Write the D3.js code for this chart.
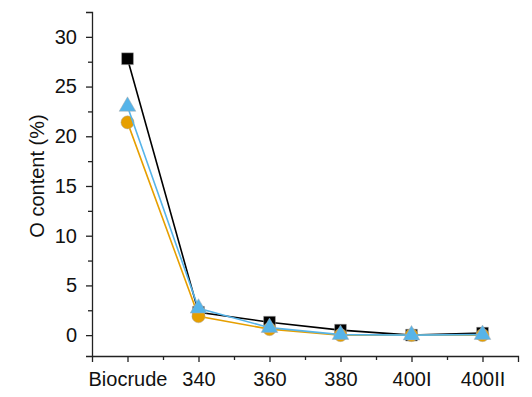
<!DOCTYPE html>
<html>
<head>
<meta charset="utf-8">
<script src="https://cdn.jsdelivr.net/npm/d3@7"></script>
<style>
  body { margin: 0; background: #fff; }
  text { font-family: "Liberation Sans", Arial, sans-serif; }
</style>
</head>
<body>
<svg id="chart" width="532" height="397"></svg>
<script>
// values
var categories = ["Biocrude", "340", "360", "380", "400I", "400II"];
var squareVals = [27.8, 2.3, 1.3, 0.5, 0.0, 0.2];
var circleVals = [21.4, 1.9, 0.6, 0.0, 0.0, 0.0];
var triangleVals = [23.0, 2.7, 0.75, 0.05, 0.0, 0.05];
var yTicks = [0, 5, 10, 15, 20, 25, 30];

var svg = d3.select("#chart");

var x = d3.scaleLinear().domain([0.5, 6.5]).range([92, 518]);
var y = d3.scaleLinear().domain([-2.1, 32.5]).range([356, 12]);

var catPos = categories.map(function(d, i) { return i + 1; });

// minor ticks first, majors drawn on top
svg.append("g")
    .attr("transform", "translate(0,356)")
    .call(d3.axisBottom(x).tickValues(d3.range(1.5, 6.5, 1)).tickSize(4).tickFormat(""))
    .call(function(g) { g.select(".domain").remove(); });

svg.append("g")
    .attr("transform", "translate(92,0)")
    .call(d3.axisLeft(y).tickValues(d3.range(-2.5 + 5, 32.5, 5)).tickSize(4).tickFormat(""))
    .call(function(g) { g.select(".domain").remove(); });

var xAxis = svg.append("g")
    .attr("transform", "translate(0,356)")
    .call(d3.axisBottom(x).tickValues(catPos).tickSize(6).tickPadding(10)
      .tickFormat(function(d) { return categories[d - 1]; }));

var yAxis = svg.append("g")
    .attr("transform", "translate(92,0)")
    .call(d3.axisLeft(y).tickValues(yTicks).tickSize(6).tickPadding(9));

svg.selectAll(".domain, .tick line").attr("stroke", "#222").attr("stroke-width", 1.3);
svg.selectAll(".tick text").attr("font-size", 20).attr("fill", "#111")
    .attr("font-family", "'Liberation Sans', Arial, sans-serif");

svg.append("text")
    .attr("transform", "translate(44,176) rotate(-90)")
    .attr("text-anchor", "middle")
    .attr("font-size", 20)
    .attr("fill", "#111")
    .text("O content (%)");

var series = [
  { vals: squareVals, color: "#000000", shape: d3.symbolSquare, size: 140 },
  { vals: circleVals, color: "#E69F00", shape: d3.symbolCircle, size: 135 },
  { vals: triangleVals, color: "#56B4E9", shape: d3.symbolTriangle, size: 120 }
];

var line = d3.line()
    .x(function(d, i) { return x(i + 1); })
    .y(function(d) { return y(d); });

series.forEach(function(s) {
  svg.append("path")
      .datum(s.vals)
      .attr("fill", "none")
      .attr("stroke", s.color)
      .attr("stroke-width", 1.6)
      .attr("d", line);

  svg.selectAll(null)
      .data(s.vals)
    .enter().append("path")
      .attr("transform", function(d, i) { return "translate(" + x(i + 1) + "," + y(d) + ")"; })
      .attr("d", d3.symbol().type(s.shape).size(s.size))
      .attr("fill", s.color)
      .attr("stroke", "#aaa")
      .attr("stroke-opacity", 0.6)
      .attr("stroke-width", 0.8);
});
</script>
</body>
</html>
